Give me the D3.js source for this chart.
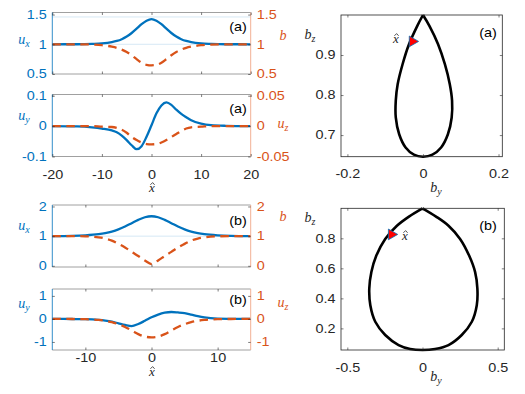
<!DOCTYPE html>
<html>
<head>
<meta charset="utf-8">
<script src="https://cdn.jsdelivr.net/npm/d3@7"></script>
<style>
  body { margin: 0; background: #fff; }
  svg { display: block; }
  text { font-family: "Liberation Sans", Arial, sans-serif; }
</style>
</head>
<body>
<svg id="fig" width="525" height="394"></svg>
<script>
// ---- data ----
// case (a)
const xHatA = [-20, -15, -12, -10, -8, -7, -6, -5, -4, -3, -2, -1, 0, 1, 2, 3, 4, 5, 6, 7, 8, 10, 12, 15, 20];
const uxA = [1, 1.001, 1.006, 1.014, 1.036, 1.056, 1.086, 1.13, 1.19, 1.262, 1.338, 1.397, 1.425,
  1.397, 1.338, 1.262, 1.19, 1.13, 1.086, 1.056, 1.036, 1.014, 1.006, 1.001, 1];
const bA = [1, 1, 0.995, 0.985, 0.96, 0.94, 0.91, 0.87, 0.815, 0.75, 0.69, 0.655, 0.646,
  0.655, 0.69, 0.75, 0.815, 0.87, 0.91, 0.94, 0.96, 0.985, 0.995, 1, 1];
const uyA = [0, -0.001, -0.004, -0.008, -0.014, -0.02, -0.031, -0.046, -0.063, -0.076, -0.066, -0.035, 0.003,
  0.042, 0.068, 0.078, 0.07, 0.054, 0.04, 0.029, 0.019, 0.008, 0.003, 0.001, 0];
const uzA = [0, 0, 0, -0.001, -0.0015, -0.003, -0.006, -0.011, -0.018, -0.023, -0.027, -0.0295, -0.03,
  -0.0295, -0.027, -0.023, -0.018, -0.013, -0.008, -0.004, -0.002, -0.001, 0, 0, 0];

// case (b)
const xHatB = [-15, -12, -10, -8, -7, -6, -5, -4, -3, -2, -1, 0, 1, 2, 3, 4, 5, 6, 7, 8, 10, 12, 15];
const uxB = [1.004, 1.012, 1.029, 1.068, 1.104, 1.156, 1.229, 1.324, 1.437, 1.55, 1.637, 1.67,
  1.637, 1.55, 1.437, 1.324, 1.229, 1.156, 1.104, 1.068, 1.029, 1.012, 1.004];
const bB = [1, 1, 0.995, 0.96, 0.92, 0.85, 0.74, 0.62, 0.47, 0.33, 0.18, 0.06,
  0.18, 0.33, 0.47, 0.62, 0.74, 0.85, 0.92, 0.96, 0.995, 1, 1];
const uyB = [0, -0.004, -0.013, -0.045, -0.075, -0.12, -0.19, -0.26, -0.31, -0.22, -0.08, 0.07,
  0.19, 0.27, 0.3, 0.28, 0.25, 0.19, 0.12, 0.065, 0.015, 0.005, 0];
const uzB = [0, -0.003, -0.012, -0.045, -0.08, -0.14, -0.23, -0.35, -0.5, -0.66, -0.77, -0.8,
  -0.77, -0.66, -0.5, -0.35, -0.23, -0.14, -0.08, -0.045, -0.012, -0.003, 0];

// hodographs (b_y, b_z), from the top cusp round the left side and back up the right
const byA = [0, -0.015, -0.037, -0.054, -0.067, -0.072, -0.072, -0.063, -0.046, -0.024, 0,
  0.025, 0.048, 0.066, 0.076, 0.077, 0.071, 0.058, 0.04, 0.017, 0];
const bzA = [1, 0.973, 0.927, 0.877, 0.827, 0.786, 0.744, 0.702, 0.669, 0.651, 0.646,
  0.651, 0.669, 0.702, 0.744, 0.786, 0.827, 0.877, 0.927, 0.973, 1];
const byB = [0, -0.09, -0.17, -0.248, -0.307, -0.34, -0.354, -0.347, -0.314, -0.248, -0.159, -0.082, 0,
  0.084, 0.173, 0.261, 0.328, 0.361, 0.365, 0.35, 0.31, 0.25, 0.173, 0.09, 0];
const bzB = [1, 0.945, 0.884, 0.796, 0.685, 0.575, 0.465, 0.354, 0.244, 0.156, 0.089, 0.063, 0.056,
  0.063, 0.089, 0.156, 0.244, 0.354, 0.465, 0.575, 0.685, 0.796, 0.884, 0.945, 1];
const markA = [-0.028, 0.934];
const markB = [-0.206, 0.826];

// ticks
const xTicksA = [-20, -10, 0, 10, 20];
const xTicksB = [-10, 0, 10];
const uxTicksA = [0.5, 1, 1.5];
const uyTicksA = [-0.1, 0, 0.1];
const uzTicksA = [-0.05, 0, 0.05];
const uxTicksB = [0, 1, 2];
const uyTicksB = [-1, 0, 1];
const byTicksA = [-0.2, 0, 0.2];
const bzTicksA = [0.7, 0.8, 0.9];
const byTicksB = [-0.5, 0, 0.5];
const bzTicksB = [0.2, 0.4, 0.6, 0.8];

// ---- drawing ----
const svg = d3.select('#fig');
const BLUE = '#0072BD',
  ORANGE = '#D95319',
  INK = '#262626',
  SX = 1.2; // the figure's glyphs are stretched sideways

svg.append('rect').attr('width', 525).attr('height', 394).attr('fill', '#fff');

const stretchText = g => {
  g.selectAll('.tick text').each(function() {
    const t = d3.select(this);
    t.attr('x', (+t.attr('x') || 0) / SX).attr('transform', `scale(${SX},1)`);
  });
};

const styleAxis = (g, color, showLabels) => {
  g.select('.domain').remove();
  g.selectAll('.tick line').attr('stroke', INK).attr('stroke-width', 0.6);
  g.selectAll('.tick text')
    .attr('fill', color)
    .style('font-size', '12px')
    .style('display', showLabels ? null : 'none');
  g.call(stretchText);
};

const label = (x, y, s, color) =>
  svg.append('text')
    .attr('transform', `translate(${x},${y}) scale(${SX},1)`)
    .attr('text-anchor', 'middle')
    .attr('dy', '0.36em')
    .attr('fill', color || '#000')
    .style('font-size', '12px')
    .text(s);

const mathLabel = (x, y, base, sub, color) => {
  const t = svg.append('text')
    .attr('transform', `translate(${x},${y})`)
    .attr('text-anchor', 'middle')
    .attr('dy', '0.2em')
    .attr('fill', color)
    .style('font-family', '"Liberation Serif", "DejaVu Serif", serif')
    .style('font-style', 'italic')
    .style('font-size', '14px');
  t.append('tspan').text(base);
  if (sub) t.append('tspan').attr('dy', 3).style('font-size', '10px').text(sub);
  return t;
};

// x with a hat drawn as a small chevron, so the text box stays tight
const xHatLabel = (x, y) => {
  const g = svg.append('g').attr('transform', `translate(${x},${y})`);
  g.append('text')
    .attr('text-anchor', 'middle')
    .attr('dy', '0.25em')
    .attr('fill', INK)
    .style('font-family', '"Liberation Serif", "DejaVu Serif", serif')
    .style('font-style', 'italic')
    .style('font-size', '13px')
    .text('x');
  g.append('path')
    .attr('d', 'M-1.6,-4.2 L0.6,-6.4 L2.6,-4.2')
    .attr('fill', 'none').attr('stroke', INK).attr('stroke-width', 0.8);
  return g;
};

const LEFT = 52.3, RIGHT = 250.7;

const leftPanel = cfg => {
  const x = d3.scaleLinear().domain(cfg.xDom).range([LEFT, RIGHT]);
  const y1 = d3.scaleLinear().domain(cfg.yDom).range([cfg.bottom, cfg.top]);
  const y2 = d3.scaleLinear().domain(cfg.y2Dom).range([cfg.bottom, cfg.top]);
  const g = svg.append('g');

  (cfg.refs || []).forEach(v => {
    g.append('line')
      .attr('x1', LEFT).attr('x2', RIGHT)
      .attr('y1', y1(v)).attr('y2', y1(v))
      .attr('stroke', '#d6e8f5').attr('stroke-width', 1);
  });

  const pts1 = cfg.xs.map((d, i) => [d, cfg.s1[i]]);
  const pts2 = cfg.xs.map((d, i) => [d, cfg.s2[i]]);
  g.append('path')
    .attr('d', d3.line().x(d => x(d[0])).y(d => y1(d[1])).curve(d3.curveMonotoneX)(pts1))
    .attr('fill', 'none').attr('stroke', BLUE).attr('stroke-width', 2.3);
  g.append('path')
    .attr('d', d3.line().x(d => x(d[0])).y(d => y2(d[1])).curve(d3.curveMonotoneX)(pts2))
    .attr('fill', 'none').attr('stroke', ORANGE).attr('stroke-width', 2.3)
    .attr('stroke-dasharray', '8.5,5.5');

  // box
  g.append('line').attr('x1', LEFT).attr('x2', RIGHT).attr('y1', cfg.top).attr('y2', cfg.top)
    .attr('stroke', '#888').attr('stroke-width', 0.8);
  g.append('line').attr('x1', LEFT).attr('x2', RIGHT).attr('y1', cfg.bottom).attr('y2', cfg.bottom)
    .attr('stroke', '#888').attr('stroke-width', 0.8);
  g.append('line').attr('x1', LEFT).attr('x2', LEFT).attr('y1', cfg.top).attr('y2', cfg.bottom)
    .attr('stroke', BLUE).attr('stroke-width', 0.8);
  g.append('line').attr('x1', RIGHT).attr('x2', RIGHT).attr('y1', cfg.top).attr('y2', cfg.bottom)
    .attr('stroke', '#f0a888').attr('stroke-width', 0.9);

  g.append('g').attr('transform', `translate(0,${cfg.bottom})`)
    .call(d3.axisBottom(x).tickValues(cfg.xTicks).tickSize(-2.5).tickPadding(cfg.xPad))
    .call(a => styleAxis(a, INK, cfg.xLabels));
  g.append('g').attr('transform', `translate(0,${cfg.top})`)
    .call(d3.axisTop(x).tickValues(cfg.xTicks).tickSize(-2.5).tickFormat(''))
    .call(a => styleAxis(a, INK, false));
  g.append('g').attr('transform', `translate(${LEFT},0)`)
    .call(d3.axisLeft(y1).tickValues(cfg.yTicks).tickSize(-2.5).tickPadding(5.5).tickFormat(d3.format('')))
    .call(a => styleAxis(a, BLUE, true));
  g.append('g').attr('transform', `translate(${RIGHT},0)`)
    .call(d3.axisRight(y2).tickValues(cfg.y2Ticks).tickSize(-2.5).tickPadding(6).tickFormat(d3.format('')))
    .call(a => styleAxis(a, ORANGE, true));
  g.selectAll('.tick text')
    .text(function() { return d3.select(this).text().replace('\u2212', '-'); });

  label(238, cfg.tagY, cfg.tag, '#000');
  mathLabel(24, cfg.yLabY, 'u', cfg.yName, BLUE);
  mathLabel(283, cfg.y2LabY, cfg.y2Name, cfg.y2Sub, ORANGE);
};

leftPanel({
  top: 12.5, bottom: 74, xDom: [-20, 20], xTicks: xTicksA, xLabels: false, xPad: 14,
  yDom: [0.5, 1.535], yTicks: uxTicksA, y2Dom: [0.5, 1.535], y2Ticks: uxTicksA,
  xs: xHatA, s1: uxA, s2: bA, refs: [1, 1.46],
  tag: '(a)', tagY: 27, yName: 'x', yLabY: 41, y2Name: 'b', y2Sub: '', y2LabY: 37
});
leftPanel({
  top: 94.5, bottom: 156.5, xDom: [-20, 20], xTicks: xTicksA, xLabels: true, xPad: 13.5,
  yDom: [-0.1, 0.104], yTicks: uyTicksA, y2Dom: [-0.05, 0.052], y2Ticks: uzTicksA,
  xs: xHatA, s1: uyA, s2: uzA,
  tag: '(a)', tagY: 109, yName: 'y', yLabY: 117, y2Name: 'u', y2Sub: 'z', y2LabY: 125
});
leftPanel({
  top: 205, bottom: 267, xDom: [-15, 15], xTicks: xTicksB, xLabels: false, xPad: 14,
  yDom: [-0.04, 2.05], yTicks: uxTicksB, y2Dom: [-0.04, 2.05], y2Ticks: uxTicksB,
  xs: xHatB, s1: uxB, s2: bB, refs: [1],
  tag: '(b)', tagY: 221, yName: 'x', yLabY: 227, y2Name: 'b', y2Sub: '', y2LabY: 218
});
leftPanel({
  top: 289, bottom: 350, xDom: [-15, 15], xTicks: xTicksB, xLabels: true, xPad: 3.5,
  yDom: [-1.35, 1.3], yTicks: uyTicksB, y2Dom: [-1.35, 1.3], y2Ticks: uyTicksB,
  xs: xHatB, s1: uyB, s2: uzB,
  tag: '(b)', tagY: 300, yName: 'y', yLabY: 305, y2Name: 'u', y2Sub: 'z', y2LabY: 304
});
xHatLabel(152, 189);
xHatLabel(152, 373);

const rightPanel = cfg => {
  const x = d3.scaleLinear().domain(cfg.xDom).range([cfg.left, cfg.right]);
  const y = d3.scaleLinear().domain(cfg.yDom).range([cfg.bottom, cfg.top]);
  const g = svg.append('g');
  const pts = cfg.by.map((d, i) => [d, cfg.bz[i]]);

  g.append('path')
    .attr('d', d3.line().x(d => x(d[0])).y(d => y(d[1])).curve(d3.curveCatmullRom.alpha(0.5))(pts))
    .attr('fill', 'none').attr('stroke', '#000').attr('stroke-width', 2.6)
    .attr('stroke-linejoin', 'round');

  g.append('rect')
    .attr('x', cfg.left).attr('y', cfg.top)
    .attr('width', cfg.right - cfg.left).attr('height', cfg.bottom - cfg.top)
    .attr('fill', 'none').attr('stroke', INK).attr('stroke-width', 0.8);

  g.append('g').attr('transform', `translate(0,${cfg.bottom})`)
    .call(d3.axisBottom(x).tickValues(cfg.xTicks).tickSize(-2.5).tickPadding(13).tickFormat(d3.format('')))
    .call(a => styleAxis(a, INK, true));
  g.append('g').attr('transform', `translate(0,${cfg.top})`)
    .call(d3.axisTop(x).tickValues(cfg.xTicks).tickSize(-2.5).tickFormat(''))
    .call(a => styleAxis(a, INK, false));
  g.append('g').attr('transform', `translate(${cfg.left},0)`)
    .call(d3.axisLeft(y).tickValues(cfg.yTicks).tickSize(-2.5).tickPadding(5.5).tickFormat(d3.format('.1f')))
    .call(a => styleAxis(a, INK, true));
  g.append('g').attr('transform', `translate(${cfg.right},0)`)
    .call(d3.axisRight(y).tickValues(cfg.yTicks).tickSize(-2.5).tickFormat(''))
    .call(a => styleAxis(a, INK, false));
  g.selectAll('.tick text')
    .text(function() { return d3.select(this).text().replace('\u2212', '-'); });

  g.append('path')
    .attr('d', d3.symbol(d3.symbolTriangle, 50)())
    .attr('transform', `translate(${x(cfg.mark[0])},${y(cfg.mark[1])}) rotate(90)`)
    .attr('fill', '#ff0000').attr('stroke', BLUE).attr('stroke-width', 0.8);

  xHatLabel(cfg.hatX, cfg.hatY);
  label(488, cfg.tagY, cfg.tag, '#000');
  mathLabel(310, cfg.bzLabY, 'b', 'z', INK);
  mathLabel(436, cfg.byLabY, 'b', 'y', INK);
};

rightPanel({
  left: 341, right: 502.3, top: 15, bottom: 156.7,
  xDom: [-0.217, 0.21], yDom: [0.646, 1.0], xTicks: byTicksA, yTicks: bzTicksA,
  by: byA, bz: bzA, mark: markA, hatX: 396, hatY: 40,
  tag: '(a)', tagY: 33, bzLabY: 36, byLabY: 189
});
rightPanel({
  left: 341, right: 504.3, top: 208.3, bottom: 350,
  xDom: [-0.542, 0.544], yDom: [0.056, 1.0], xTicks: byTicksB, yTicks: bzTicksB,
  by: byB, bz: bzB, mark: markB, hatX: 405, hatY: 237,
  tag: '(b)', tagY: 226, bzLabY: 219, byLabY: 378
});
</script>
</body>
</html>
